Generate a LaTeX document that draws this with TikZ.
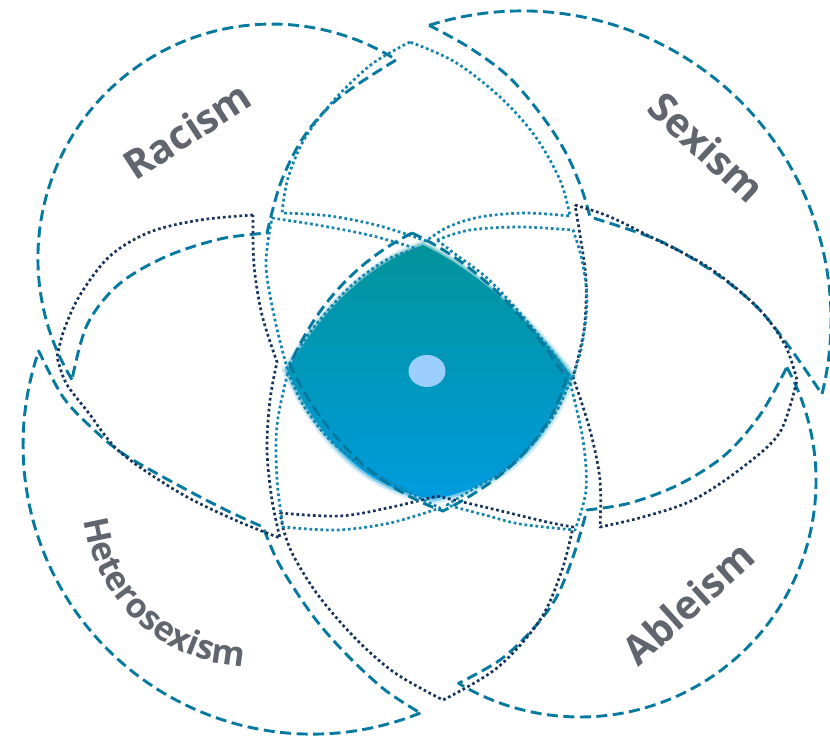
\documentclass[tikz,border=0pt]{standalone}
\usepackage{fontspec}
\setmainfont{Open Sans}
\usetikzlibrary{decorations.text,calc}
\definecolor{dashteal}{HTML}{06799F}
\definecolor{dotnavy}{HTML}{18345A}
\definecolor{dotteal}{HTML}{1384AD}
\definecolor{labelgray}{HTML}{60656E}
\definecolor{coretop}{HTML}{02949A}
\definecolor{corebot}{HTML}{009BDE}
\definecolor{corespot}{HTML}{9CCFFD}
\tikzset{
  sm/.style={smooth, tension=0.55},
  crescent/.style={draw=dashteal, line width=2.9pt, dash pattern=on 11pt off 5.5pt, line join=round},
  lensnavy/.style={draw=dotnavy, line width=2.7pt, dash pattern=on 2.7pt off 2.8pt, line join=round},
  lensteal/.style={draw=dotteal, line width=2.7pt, dash pattern=on 2.7pt off 2.8pt, line join=round},
  tag/.style={text=labelgray, font=\fontsize{40}{40}\selectfont\bfseries, inner sep=0pt}
}
% bowed edge from #1 through #2 (half way) to #3
\newcommand\qarc[3]{.. controls ($1.3333*(#2)-0.3333*(#3)$) and ($1.3333*(#2)-0.3333*(#1)$) .. (#3)}
% outline of the central four-way overlap
\def\CorePath{(423,245) \qarc{423,245}{350,290}{287,370}
  \qarc{287,370}{350,460}{433,499}
  \qarc{433,499}{517,460}{571,375}
  \qarc{571,375}{500,297}{423,245} -- cycle}
\begin{document}
\begin{tikzpicture}[x=1pt, y=-1pt]
\useasboundingbox[fill=white] (0,0) rectangle (830,741);

% soft-edged core
\foreach \f/\o in {1.04/0.18, 1.02/0.4, 1.0/1} {
  \shade[top color=coretop, bottom color=corebot, fill opacity=\o, scale around={\f:(429,372)}] \CorePath;
}
\fill[corespot] (427,371) ellipse[x radius=18.5, y radius=16];

% single-set crescents
\draw[crescent] (72,379.6) arc[start angle=148.7, end angle=302.1, radius=234]
  -- plot[sm] coordinates {(396.3,59.8) (340,97) (305,135) (281,182) (267,233)}
  -- plot[sm] coordinates {(267,233) (220,239) (165,257) (118,285) (87,325) (72,379.6)} -- cycle;
\draw[crescent] (429.1,25.3) arc[start angle=-107.5, end angle=13.9, radius=309]
  -- plot[sm] coordinates {(822,394.2) (790,348) (757,307) (715,273) (660,241) (590,217)}
  -- plot[sm] coordinates {(590,217) (582,190) (567,155) (545,120) (510,78) (470,48) (429.1,25.3)} -- cycle;
\draw[crescent] (786.8,367.3) arc[start angle=-28.8, end angle=121, radius=236]
  -- plot[sm] coordinates {(458.5,683.3) (500,660) (532,630) (556,598) (573,557) (587,510)}
  -- plot[sm] coordinates {(587,510) (630,503) (680,484) (725,455) (760,415) (786.8,367.3)} -- cycle;
\draw[crescent] (420.3,713) arc[start angle=68, end angle=199, radius=289]
  -- plot[sm] coordinates {(38.7,350.9) (63,397) (92,428) (125,455) (187,490) (230,512) (263,527)}
  -- plot[sm] coordinates {(263,527) (277,560) (297,593) (320,625) (350,658) (385,690) (420.3,713)} -- cycle;

% two-set lenses
\draw[lensnavy] plot[sm] coordinates {(253,215) (200,220) (150,232) (110,256) (80,295) (64,330) (57,357)}
  -- plot[sm] coordinates {(57,357) (66,383) (88,412) (120,452) (180,493) (235,520) (280,538)}
  -- plot[sm] coordinates {(280,538) (272,500) (267,450) (270,400) (277,362)}
  -- plot[sm] coordinates {(277,362) (262,315) (254,265) (253,215)} -- cycle;
\draw[lensteal] plot[sm] coordinates {(410,42) (372,64) (335,99) (305,138) (288,178) (282,213)}
  -- plot[sm] coordinates {(282,213) (330,216) (380,226) (426,241)}
  -- plot[sm] coordinates {(426,241) (448,227) (480,217) (525,213) (570,216)}
  -- plot[sm] coordinates {(570,216) (560,180) (535,136) (500,97) (455,62) (410,42)} -- cycle;
\draw[lensnavy] plot[sm] coordinates {(575,205) (608,216) (643,233) (708,267) (758,308) (785,345) (797,380)}
  -- plot[sm] coordinates {(797,380) (780,432) (743,467) (693,500) (643,517) (600,527)}
  -- plot[sm] coordinates {(600,527) (600,480) (590,430) (573,377)}
  -- plot[sm] coordinates {(573,377) (584,330) (586,280) (580,235) (575,205)} -- cycle;
\draw[lensnavy] plot[sm] coordinates {(280,513) (340,516) (392,507) (437,496)}
  -- plot[sm] coordinates {(437,496) (497,510) (547,522) (573,527)}
  -- plot[sm] coordinates {(573,527) (562,570) (540,620) (497,668) (443,700)}
  -- plot[sm] coordinates {(443,700) (395,673) (355,638) (318,595) (293,555) (283,528)} -- cycle;

% three-set slivers round the core
\draw[lensteal] plot[sm] coordinates {(272,218) (323,226) (373,236) (418,249)}
  -- plot[sm] coordinates {(418,249) (388,259) (352,285) (318,322) (299,348) (287,368)}
  -- plot[sm] coordinates {(287,368) (275,320) (266,265) (272,218)} -- cycle;
\draw[lensteal] plot[sm] coordinates {(437,240) (470,230) (520,227) (573,230)}
  -- plot[sm] coordinates {(573,230) (582,260) (587,300) (582,345) (572,380)}
  -- plot[sm] coordinates {(572,380) (553,353) (520,313) (487,278) (455,254) (437,240)} -- cycle;
\draw[lensteal] plot[sm] coordinates {(570,382) (556,412) (533,443) (505,470) (473,489) (447,505)}
  -- plot[sm] coordinates {(447,505) (485,515) (520,524) (575,530)}
  -- plot[sm] coordinates {(575,530) (586,490) (583,440) (570,382)} -- cycle;
\draw[lensteal] plot[sm] coordinates {(288,372) (302,403) (327,437) (357,462) (395,485) (440,508)}
  -- plot[sm] coordinates {(440,508) (390,523) (337,530) (283,527)}
  -- plot[sm] coordinates {(283,527) (277,480) (277,425) (288,372)} -- cycle;

% dashed rim of the core
\draw[crescent] (412,233) \qarc{412,233}{340,287}{290,365}
  \qarc{290,365}{355,457}{443,511}
  \qarc{443,511}{525,452}{566,378}
  \qarc{566,378}{495,290}{412,233} -- cycle;

% set names
\node[tag, rotate=33] (racism) at (187,130) {Racism};
\node[tag, rotate=-43] (sexism) at (707,147) {Sexism};
\node[tag, rotate=42] (ableism) at (688,603) {Ableism};
\path[decorate, decoration={text along path, text align=center,
  text={|\color{labelgray}\fontsize{34}{34}\selectfont\bfseries|Heterosexism}}]
  (250,499) ++(180:167) arc[start angle=180, end angle=85, radius=167];
\end{tikzpicture}
\end{document}
